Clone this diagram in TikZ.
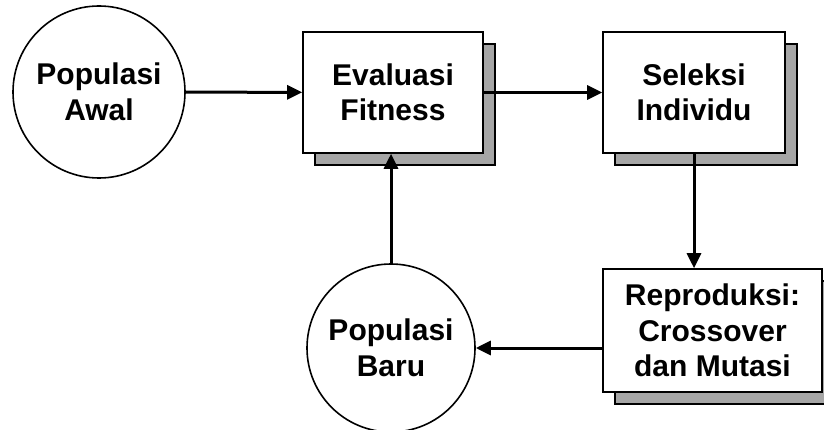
\documentclass[tikz,border=0pt]{standalone}
\usepackage{fontspec}
\setmainfont{Liberation Sans}
\usetikzlibrary{arrows.meta,shadows}
\begin{document}
\begin{tikzpicture}[x=1pt,y=-1pt,
  every node/.style={inner sep=0pt,align=center,
    font=\bfseries\fontsize{30pt}{35.5pt}\selectfont},
  state/.style={circle,draw=black,line width=1.6pt,fill=white},
  stepbox/.style={rectangle,draw=black,line width=1.6pt,fill=white,
    copy shadow={shadow xshift=12pt,shadow yshift=-12pt,
      fill=black!35,draw=black,line width=1.6pt}},
  flow/.style={line width=3pt,-{Triangle[length=15pt,width=14pt]}}]
\useasboundingbox (0,0) rectangle (824,430);
\node[state,minimum size=172pt] (awal) at (99,92) {Populasi\\Awal};
\node[stepbox,minimum width=180pt,minimum height=121pt] (eval) at (393,92.5) {Evaluasi\\Fitness};
\node[stepbox,minimum width=182pt,minimum height=121pt] (sel) at (694,92.5) {Seleksi\\Individu};
\node[stepbox,minimum width=219pt,minimum height=123pt] (rep) at (712.5,330.5) {Reproduksi:\\Crossover\\dan Mutasi};
\node[state,minimum size=168pt] (baru) at (391,348) {Populasi\\Baru};
\draw[flow] (awal) -- (eval);
\draw[flow] (eval) -- (sel);
\draw[flow] (sel.south) -- (sel.south |- rep.north);
\draw[flow] (rep.west |- baru.east) -- (baru.east);
\draw[flow] (baru.north) -- (baru.north |- eval.south);
\end{tikzpicture}
\end{document}
